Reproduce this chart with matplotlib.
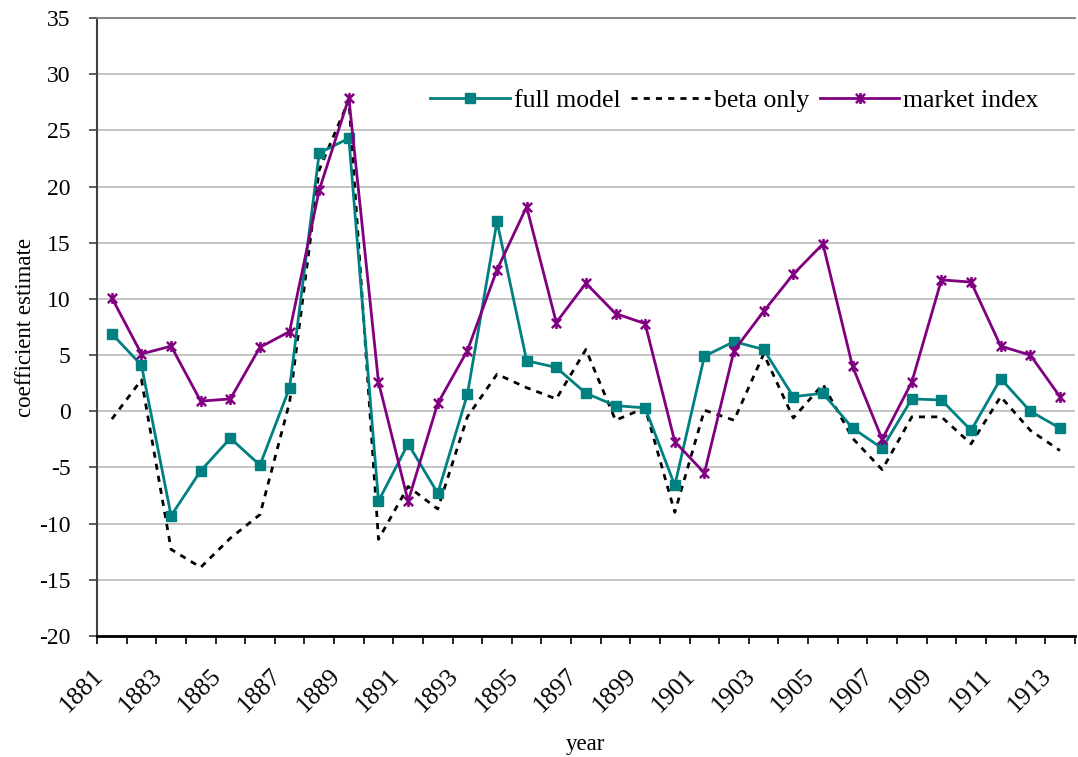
import matplotlib
matplotlib.use("Agg")
import matplotlib.pyplot as plt
import matplotlib.transforms as mtransforms
import numpy as np
from matplotlib.path import Path

# 数据：1881-1913 年的系数估计
years = list(range(1881, 1914))
full_model = [6.9, 4.1, -9.3, -5.3, -2.4, -4.8, 2.1, 23.0, 24.3, -8.0, -2.9, -7.3,
              1.5, 16.9, 4.5, 3.9, 1.6, 0.5, 0.3, -6.6, 4.9, 6.2, 5.5, 1.3,
              1.6, -1.5, -3.3, 1.1, 1.0, -1.7, 2.9, 0.0, -1.5]
beta_only = [-0.7, 2.8, -12.3, -13.9, -11.3, -9.2, 0.8, 21.5, 27.7, -11.4, -6.7, -8.7,
             -0.5, 3.3, 2.1, 1.1, 5.5, -0.8, 0.3, -9.0, 0.1, -0.8, 5.1, -0.6,
             2.4, -2.4, -5.2, -0.5, -0.5, -2.9, 1.3, -1.7, -3.5]
market_index = [10.1, 5.1, 5.8, 0.9, 1.1, 5.7, 7.1, 19.7, 27.9, 2.6, -8.0, 0.7,
                5.4, 12.6, 18.2, 7.9, 11.4, 8.7, 7.8, -2.7, -5.5, 5.4, 8.9, 12.2,
                14.9, 4.0, -2.5, 2.6, 11.7, 11.5, 5.8, 5.0, 1.3]

plt.rcParams["font.family"] = ["Liberation Serif", "DejaVu Serif"]
plt.rcParams["font.size"] = 16.5
plt.rcParams["axes.unicode_minus"] = False

fig = plt.figure(figsize=(10.78, 7.57), dpi=100)
ax = fig.add_axes([0.09, 0.16, 0.907, 0.816])

x = np.arange(len(years))

# Excel 风格的星形标记：X 加一条竖线
star = Path([(-1, -1), (1, 1), (-1, 1), (1, -1), (0, -1.2), (0, 1.2)],
            [Path.MOVETO, Path.LINETO, Path.MOVETO, Path.LINETO, Path.MOVETO, Path.LINETO])

ax.plot(x, full_model, color="#008080", lw=2.0, marker="s", markersize=7,
        label="full model", zorder=3)
ax.plot(x, beta_only, color="black", lw=2.0, linestyle=(0, (2.2, 2.2)),
        label="beta only", zorder=2)
ax.plot(x, market_index, color="#800080", lw=2.0, marker=star, markersize=8,
        markeredgewidth=1.8, markerfacecolor="none", label="market index", zorder=4)

ax.set_ylim(-20, 35)
ax.set_yticks(np.arange(-20, 36, 5))
ax.set_xlim(-0.5, len(years) - 0.5)

# 每两年一个刻度标签，刻度线在类别之间
ax.set_xticks(x[::2])
ax.set_xticklabels([str(y) for y in years[::2]], rotation=45, ha="right",
                   rotation_mode="anchor", fontsize=18.5)
ax.tick_params(axis="x", length=0, pad=21)
shift = mtransforms.ScaledTranslation(-20 / 100, 0, fig.dpi_scale_trans)
for lbl in ax.get_xticklabels():
    lbl.set_transform(lbl.get_transform() + shift)
ax.set_xticks(np.arange(-0.5, len(years), 1), minor=True)
ax.tick_params(axis="x", which="minor", length=6, width=1.2, color="black")
ax.tick_params(axis="y", length=6, width=1.2, color="#404040", pad=13, labelsize=17)

ax.grid(axis="y", color="#c0c0c0", lw=1.3)
ax.set_axisbelow(True)
ax.spines["right"].set_visible(False)
ax.spines["top"].set_color("#808080")
ax.spines["top"].set_linewidth(1.3)
ax.spines["left"].set_color("#404040")
ax.spines["left"].set_linewidth(1.5)
ax.spines["bottom"].set_color("black")
ax.spines["bottom"].set_linewidth(2.0)

ax.set_xlabel("year", labelpad=12)
ax.set_ylabel("coefficient estimate", labelpad=2)

ax.legend(loc="center", bbox_to_anchor=(0.652, 0.867), ncol=3, frameon=False,
          handlelength=3.1, columnspacing=0.4, handletextpad=0.15, fontsize=18.5)

fig.savefig("out.png", dpi=100)
